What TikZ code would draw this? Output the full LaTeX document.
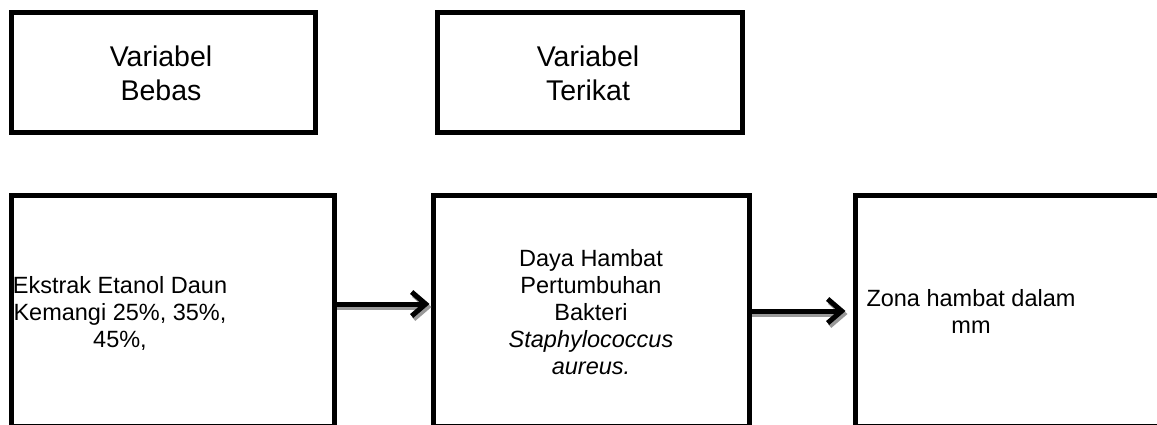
\documentclass[tikz,border=0pt]{standalone}
\usepackage{fontspec}
\setmainfont{Liberation Sans}
\usetikzlibrary{arrows.meta}
\begin{document}
\begin{tikzpicture}[x=1pt,y=-1pt,
  box/.style={draw=black, line width=5pt, outer sep=0pt, inner sep=0pt, minimum width=#1},
  toptxt/.style={align=center, font=\fontsize{28.5}{34}\selectfont},
  bottxt/.style={align=center, font=\fontsize{23.5}{27}\selectfont},
  arr/.style={line width=5pt, -{Straight Barb[length=14pt, width=24pt, line width=5pt]}},
  arrshadow/.style={arr, draw=black!40}]
\useasboundingbox (0,0) rectangle (1157,425);
\clip (0,0) rectangle (1157,425);
% top boxes
\node[box=304pt, minimum height=120pt] (tb1) at (163.5,72.5) {};
\node[box=305pt, minimum height=120pt] (tb2) at (590,72.5) {};
\node[toptxt] (t1) at (161,73) {Variabel\\Bebas};
\node[toptxt] (t2) at (588,73) {Variabel\\Terikat};
% bottom boxes
\node[box=322.5pt, minimum height=231pt] (A) at (172.75,311) {};
\node[box=316pt, minimum height=231pt] (B) at (591.5,311) {};
\node[box=309.5pt, minimum height=231pt] (C) at (1010.25,311) {};
\node[bottxt] (ta) at (120,313) {Ekstrak Etanol Daun\\Kemangi 25\%, 35\%,\\45\%,};
\node[bottxt] (tb) at (591,312) {Daya Hambat\\Pertumbuhan\\Bakteri\\\textit{Staphylococcus}\\\textit{aureus.}};
\node[bottxt] (tc) at (971,311) {Zona hambat dalam\\mm};
% arrows
\coordinate (r1) at (0,304);
\coordinate (r2) at (0,311);
\coordinate (s1) at (2,307);
\coordinate (s2) at (2,314);
\draw[arrshadow] ([xshift=2.5pt]A.east |- s1) -- ([xshift=-2pt]B.west |- s1);
\draw[arr] ([xshift=2.5pt]A.east |- r1) -- ([xshift=-4pt]B.west |- r1);
\draw[arrshadow] ([xshift=2.5pt]B.east |- s2) -- ([xshift=-8pt]C.west |- s2);
\draw[arr] ([xshift=2.5pt]B.east |- r2) -- ([xshift=-10pt]C.west |- r2);
\end{tikzpicture}
\end{document}
